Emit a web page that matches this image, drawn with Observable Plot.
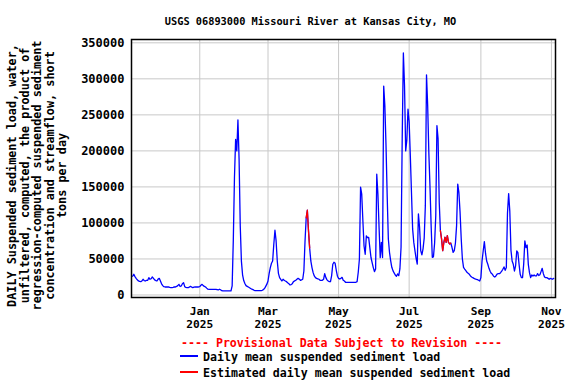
<!DOCTYPE html>
<html><head><meta charset="utf-8">
<script src="https://cdn.jsdelivr.net/npm/d3@7"></script>
<script src="https://cdn.jsdelivr.net/npm/@observablehq/plot@0.6"></script>
<style>
html,body{margin:0;padding:0;background:#fff;}
#wrap{position:relative;width:576px;height:384px;overflow:hidden;font-family:"DejaVu Sans Mono",monospace;font-weight:bold;color:#000;}
#title{position:absolute;top:14px;left:310.5px;transform:translateX(-50%);white-space:nowrap;font-size:10.3px;line-height:14px;}
#chart{position:absolute;top:30px;left:0;}
.leg{position:absolute;white-space:nowrap;font-size:11.6px;line-height:16px;}
.sw{position:absolute;left:180px;width:18px;height:1.5px;}
</style></head><body>
<div id="wrap">
<div id="title"></div>
<div id="chart"></div>
<div class="leg" id="prov" style="top:334.7px;left:181px;color:#ff0000"></div>
<div class="sw" style="top:355px;background:#0000ff"></div>
<div class="leg" id="l1" style="top:348.7px;left:203px"></div>
<div class="sw" style="top:371px;background:#ff0000"></div>
<div class="leg" id="l2" style="top:364.7px;left:203px"></div>
</div>
<script>
const titleText = "USGS 06893000 Missouri River at Kansas City, MO";
const yLabelLines = [
  "DAILY Suspended sediment load, water,",
  "unfiltered, computed, the product of",
  "regression-computed suspended sediment",
  "concentration and streamflow, short",
  "tons per day"
];
const provisionalText = "---- Provisional Data Subject to Revision ----";
const seriesNames = ["Daily mean suspended sediment load", "Estimated daily mean suspended sediment load"];

const yTicks = [0, 50000, 100000, 150000, 200000, 250000, 300000, 350000];
const xTickDates = ["2025-01-01", "2025-03-01", "2025-05-01", "2025-07-01", "2025-09-01", "2025-11-01"];
const xTickMonths = ["Jan", "Mar", "May", "Jul", "Sep", "Nov"];
const xTickYears = ["2025", "2025", "2025", "2025", "2025", "2025"];

// Daily mean suspended sediment load (short tons per day), first value is 2024-11-04
const startDate = "2024-11-04";
const nov2024 = [26000,28700,25500,23000,21000,19500,18800,18500,19500,21800,20000,19400,20400,20400,24000,21800,22500,25000,23100,21000,20000,19400,22000,23100,19400,15500,13000];
const dec2024 = [11500,11100,11100,11100,11100,10500,10200,10200,10500,11100,11100,12000,13000,14800,11800,12500,15500,17100,11500,10500,10200,10200,11000,12000,11000,10200,10800,11100,11100,11100,11100];
const jan2025 = [11500,13500,14800,13000,12000,11100,9500,8000,7900,7900,7900,7900,7900,7900,7900,7500,7000,8000,7200,6000,5600,5600,5600,5600,5600,5600,5600,5600,12500,76000,163000];
const feb2025 = [216000,200000,243000,188000,96000,47000,28000,20000,16000,13000,12000,11000,10000,9000,8000,7500,6500,6000,6000,6000,6000,6000,6000,6500,7500,9000,12000,15000];
const mar2025 = [19400,30000,38000,44000,47200,70400,89900,75000,47200,30000,24000,21800,19400,21800,20400,19400,18500,17000,15700,13900,14500,15700,18500,19500,20400,21800,23100,22000,20400,21000,21800];
const apr2025 = [33300,75000,107000,117600,88900,65000,47200,38000,31000,26400,24100,23100,22500,21800,20400,20400,20400,21800,29600,24100,21000,19400,18500,18500,26900,42600,45400,44000,34300,26000];
const may2025 = [23100,22200,23100,24500,20400,19400,17600,17600,17600,17600,17600,17600,17600,17600,17600,17600,18500,31500,50000,149600,140000,103000,68000,56500,82000,79600,80000,65700,52000,44900,38000];
const jun2025 = [32400,36000,167600,139800,93400,51800,73000,52000,290000,262500,207000,138000,78000,59300,47700,38400,33800,30600,27800,26000,29200,26900,36100,66200,218000,336000,290000,200000,215000,258000];
const jul2025 = [240000,193500,142600,91700,73000,61500,50900,43000,112500,94000,61500,55600,64000,79000,124000,305600,263000,198000,151000,96000,52300,53000,72000,110000,235000,216700,128700,89300,77800,61500,73100];
const aug2025 = [80100,73100,82400,73100,70800,72000,66200,59300,61500,72000,96300,154000,142000,115000,78000,50000,38400,36000,33800,31500,30000,28700,26400,25000,24000,23100,22200,21800,21300,20400,19400];
const sep2025 = [24100,47200,61100,74100,58000,47200,42600,37000,33000,30000,28700,26000,25000,26400,29000,29600,29600,31000,33000,35700,38900,34300,38000,114000,140800,116000,62000,47200,42600,33300];
const oct2025 = [40300,61100,58700,42600,28700,24100,24100,42600,75000,65700,69400,42600,31000,24100,27800,26400,27800,26400,26400,29600,27000,28000,32400,37000,29600,25000,24100,24100,23100,21800,23100];
const nov2025 = [22500,21800,23100];

// Estimated (red) periods, inclusive
const estimatedRanges = [["2025-04-04", "2025-04-06"], ["2025-07-29", "2025-08-06"]];

const values = [].concat(nov2024, dec2024, jan2025, feb2025, mar2025, apr2025, may2025, jun2025, jul2025, aug2025, sep2025, oct2025, nov2025);
const t0 = new Date(startDate + "T00:00:00Z");
const series = values.map((v, i) => ({date: d3.utcDay.offset(t0, i), value: v}));

const estSeries = [];
estimatedRanges.forEach(([a, b], run) => {
  const s = d3.utcDay.offset(new Date(a + "T00:00:00Z"), -1);
  const e = new Date(b + "T00:00:00Z");
  series.forEach(d => { if (d.date >= s && d.date <= e) estSeries.push({date: d.date, value: d.value, run}); });
});

const xTicks = xTickDates.map(s => new Date(s + "T00:00:00Z"));
const tickIndex = d => xTicks.findIndex(t => +t === +d);

const chart = Plot.plot({
  width: 576,
  height: 302,
  marginTop: 9,
  marginBottom: 35,
  marginLeft: 131,
  marginRight: 21,
  style: {fontFamily: '"DejaVu Sans Mono", monospace', fontWeight: "bold", fontSize: "12px", background: "white", color: "black"},
  x: {type: "utc", domain: [new Date(Date.UTC(2024, 10, 3)), new Date(Date.UTC(2025, 10, 4, 12))]},
  y: {domain: [-3500, 354600]},
  marks: [
    Plot.gridY(yTicks, {stroke: "#c8c8c8", strokeOpacity: 1}),
    Plot.gridX(xTicks, {stroke: "#c8c8c8", strokeOpacity: 1}),
    Plot.axisY(yTicks, {tickSize: 0, tickPadding: 7, tickFormat: d3.format("d"), fontSize: 12, label: null}),
    Plot.axisX(xTicks, {tickSize: 0, tickPadding: 9.5, fontSize: 11.2, label: null,
      tickFormat: d => xTickMonths[tickIndex(d)]}),
    Plot.axisX(xTicks, {tickSize: 0, tickPadding: 22.8, fontSize: 11.2, label: null,
      tickFormat: d => xTickYears[tickIndex(d)]}),
    Plot.lineY(series, {x: "date", y: "value", stroke: "#0000ff", strokeWidth: 1.3}),
    Plot.lineY(estSeries, {x: "date", y: "value", z: "run", stroke: "#ff0000", strokeWidth: 1.3}),
    Plot.frame({stroke: "black", strokeWidth: 1.5}),
    Plot.text([yLabelLines.join("\n")], {frameAnchor: "left", rotate: -90, dx: -94.3, dy: 7,
      textAnchor: "middle", lineAnchor: "middle", lineHeight: 1.05, fontSize: 11.8, fill: "black"})
  ]
});
document.getElementById("chart").appendChild(chart);
document.getElementById("title").textContent = titleText;
document.getElementById("prov").textContent = provisionalText;
document.getElementById("l1").textContent = seriesNames[0];
document.getElementById("l2").textContent = seriesNames[1];
</script>
</body></html>
